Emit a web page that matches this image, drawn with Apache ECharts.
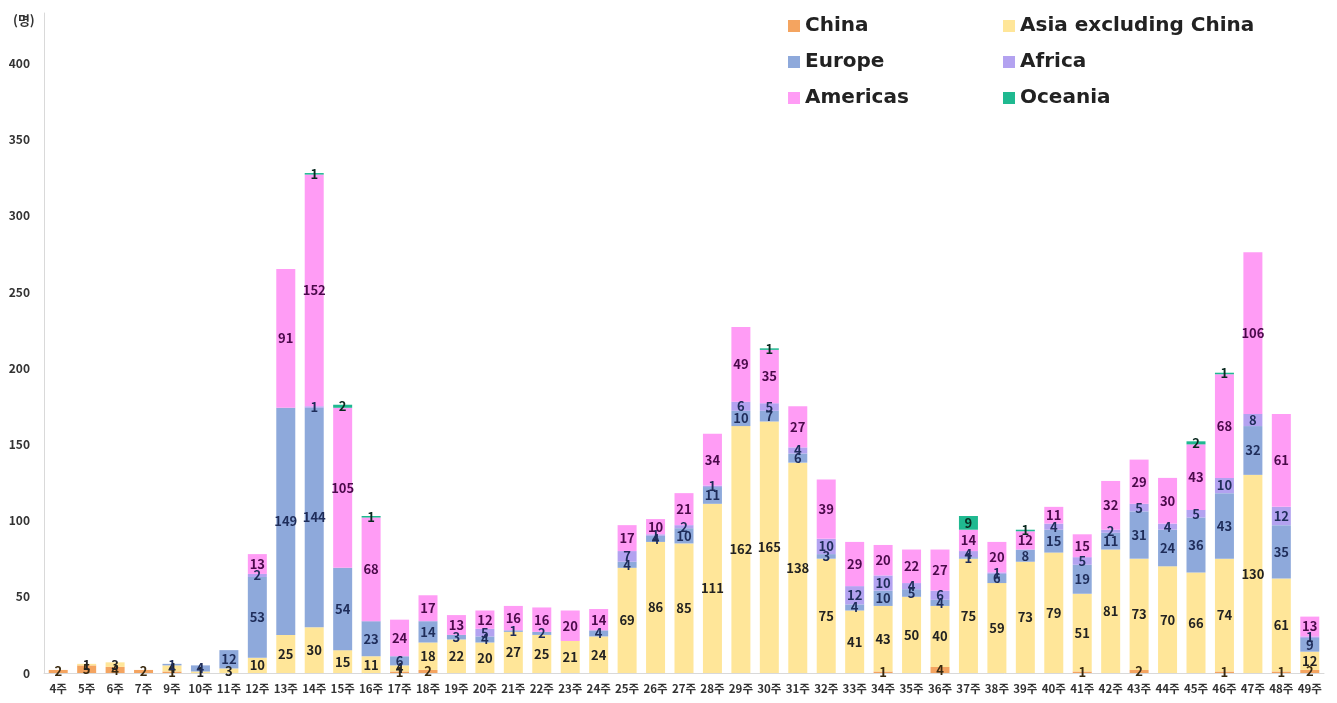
<!DOCTYPE html>
<html><head><meta charset="utf-8">
<script src="https://cdn.jsdelivr.net/npm/echarts@6/dist/echarts.min.js"></script>
<style>html,body{margin:0;padding:0;background:#fff}#c{width:1337px;height:703px}</style>
</head><body><div id="c"></div>
<script>
const weeks = ['4주','5주','6주','7주','9주','10주','11주','12주','13주','14주','15주','16주','17주','18주','19주','20주','21주','22주','23주','24주','25주','26주','27주','28주','29주','30주','31주','32주','33주','34주','35주','36주','37주','38주','39주','40주','41주','42주','43주','44주','45주','46주','47주','48주','49주'];
const china    = [2,5,4,2,1,0,0,0,0,0,0,0,1,2,0,0,0,0,0,0,0,0,0,0,0,0,0,0,0,1,0,4,0,0,0,0,1,0,2,0,0,1,0,1,2];
const asiaExCn = [0,1,3,0,4,1,3,10,25,30,15,11,4,18,22,20,27,25,21,24,69,86,85,111,162,165,138,75,41,43,50,40,75,59,73,79,51,81,73,70,66,74,130,61,12];
const europe   = [0,0,0,0,1,4,12,53,149,144,54,23,6,14,3,4,1,2,0,4,4,4,10,11,10,7,6,3,4,10,5,4,1,6,8,15,19,11,31,24,36,43,32,35,9];
const africa   = [0,0,0,0,0,0,0,2,0,1,0,0,0,0,0,5,0,0,0,0,7,1,2,1,6,5,4,10,12,10,4,6,4,1,0,4,5,2,5,4,5,10,8,12,1];
const americas = [0,0,0,0,0,0,0,13,91,152,105,68,24,17,13,12,16,16,20,14,17,10,21,34,49,35,27,39,29,20,22,27,14,20,12,11,15,32,29,30,43,68,106,61,13];
const oceania  = [0,0,0,0,0,0,0,0,0,1,2,1,0,0,0,0,0,0,0,0,0,0,0,0,0,1,0,0,0,0,0,0,9,0,1,0,0,0,0,0,2,1,0,0,0];
const yTicks = [0,50,100,150,200,250,300,350,400];

const FONT = "'Noto Sans CJK KR', 'Noto Sans', sans-serif";
const LFONT = "'DejaVu Sans', 'Noto Sans', sans-serif";
const seriesDefs = [
  {name:'China', data:china, color:'#F4A460', lc:'#3a2a10'},
  {name:'Asia excluding China', data:asiaExCn, color:'#FFE699', lc:'#222222'},
  {name:'Europe', data:europe, color:'#8EA9DB', lc:'#1F2D5A'},
  {name:'Africa', data:africa, color:'#B3A2F0', lc:'#1F2D5A'},
  {name:'Americas', data:americas, color:'#FF9CF5', lc:'#4A0A4A'},
  {name:'Oceania', data:oceania, color:'#1FB990', lc:'#0A2A20'}
];

const chart = echarts.init(document.getElementById('c'));
chart.setOption({
  animation:false,
  title:{text:'(명)', left:8, top:9, textStyle:{fontFamily:FONT, fontSize:13, fontWeight:'bold', color:'#333'}},
  legend:[
    {data:['China','Europe','Americas'], orient:'vertical', left:783, top:11, itemWidth:12, itemHeight:12, itemGap:16,
     icon:'rect', textStyle:{fontFamily:LFONT, fontSize:20, fontWeight:'bold', color:'#222'}},
    {data:['Asia excluding China','Africa','Oceania'], orient:'vertical', left:998, top:11, itemWidth:12, itemHeight:12, itemGap:16,
     icon:'rect', textStyle:{fontFamily:LFONT, fontSize:20, fontWeight:'bold', color:'#222'}}
  ],
  grid:{left:44, right:13, top:13, bottom:30, containLabel:false},
  xAxis:{type:'category', data:weeks,
    axisLine:{lineStyle:{color:'#D9D9D9'}}, axisTick:{show:false},
    axisLabel:{interval:0, fontFamily:FONT, fontSize:11.5, fontWeight:'bold', color:'#333', margin:10}},
  yAxis:{type:'value', min:0, max:433, interval:50,
    axisLine:{show:true, lineStyle:{color:'#D9D9D9'}}, axisTick:{show:false}, splitLine:{show:false},
    axisLabel:{showMaxLabel:false, fontFamily:FONT, fontSize:12, fontWeight:'bold', color:'#333', margin:14,
      formatter:v => yTicks.includes(v) ? String(v) : ''}},
  series: seriesDefs.map(s => ({
    name:s.name, type:'bar', stack:'total', data:s.data, barWidth:19,
    itemStyle:{color:s.color},
    label:{show:true, position:'inside', fontFamily:FONT, fontSize:13, fontWeight:'bold', color:s.lc,
      formatter:p => p.value ? String(p.value) : ''}
  }))
});
</script></body></html>
